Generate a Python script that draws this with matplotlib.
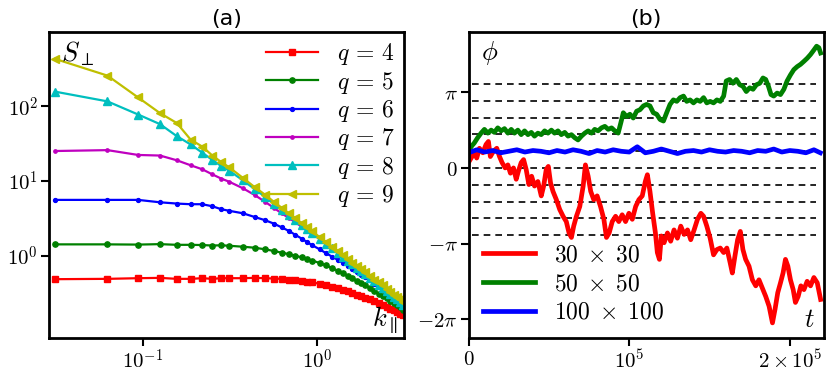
import numpy as np
import matplotlib
matplotlib.use("Agg")
import matplotlib.pyplot as plt

plt.rcParams["mathtext.fontset"] = "cm"
plt.rcParams["font.family"] = "DejaVu Sans"

# ---- panel (a): structure factor vs k_par ----
k_par = [0.0314, 0.0628, 0.0942, 0.1257, 0.1571, 0.1885, 0.2199, 0.2513, 0.2827, 0.3142,
         0.377, 0.440, 0.503, 0.565, 0.628, 0.691, 0.754, 0.817, 0.880, 0.942,
         1.037, 1.131, 1.225, 1.319, 1.414, 1.508, 1.602, 1.696, 1.791, 1.885,
         2.011, 2.136, 2.262, 2.388, 2.513, 2.639, 2.765, 2.890, 3.016, 3.142]

s_q4 = [0.485, 0.49, 0.50, 0.505, 0.49, 0.49, 0.50, 0.49, 0.50, 0.50,
        0.50, 0.505, 0.50, 0.495, 0.49, 0.48, 0.47, 0.46, 0.45, 0.44,
        0.42, 0.40, 0.385, 0.37, 0.35, 0.335, 0.32, 0.30, 0.29, 0.275,
        0.26, 0.245, 0.23, 0.22, 0.205, 0.195, 0.185, 0.175, 0.168, 0.16]
s_q5 = [1.42, 1.42, 1.41, 1.43, 1.40, 1.40, 1.39, 1.37, 1.38, 1.36,
        1.32, 1.28, 1.22, 1.16, 1.10, 1.05, 1.00, 0.95, 0.90, 0.86,
        0.80, 0.74, 0.68, 0.63, 0.58, 0.54, 0.50, 0.46, 0.43, 0.40,
        0.37, 0.34, 0.31, 0.29, 0.27, 0.25, 0.235, 0.22, 0.205, 0.19]
s_q6 = [5.6, 5.6, 5.6, 5.2, 5.0, 4.9, 4.9, 4.6, 4.2, 4.0,
        3.7, 3.3, 3.0, 2.7, 2.4, 2.15, 1.9, 1.7, 1.52, 1.38,
        1.22, 1.08, 0.97, 0.88, 0.80, 0.73, 0.66, 0.61, 0.56, 0.52,
        0.47, 0.42, 0.38, 0.35, 0.32, 0.29, 0.27, 0.25, 0.23, 0.21]
s_q7 = [25.3, 26.0, 22.4, 22.0, 19.0, 16.3, 14.4, 12.3, 10.8, 9.8,
        8.0, 6.5, 5.3, 4.4, 3.7, 3.2, 2.8, 2.45, 2.2, 1.98,
        1.67, 1.43, 1.24, 1.09, 0.96, 0.85, 0.76, 0.68, 0.62, 0.56,
        0.50, 0.45, 0.40, 0.37, 0.33, 0.30, 0.28, 0.25, 0.23, 0.21]
s_q8 = [158, 117, 78, 58, 40, 31, 24, 19.2, 15.9, 13.8,
        10.2, 7.8, 6.2, 5.0, 4.1, 3.5, 3.0, 2.6, 2.27, 2.0,
        1.69, 1.45, 1.25, 1.10, 0.97, 0.86, 0.77, 0.69, 0.63, 0.57,
        0.51, 0.455, 0.41, 0.37, 0.34, 0.31, 0.28, 0.26, 0.24, 0.22]
s_q9 = [434, 259, 132, 81.5, 60, 36, 29, 22, 18, 15.3,
        11.0, 8.3, 6.6, 5.3, 4.4, 3.7, 3.16, 2.74, 2.40, 2.12,
        1.78, 1.53, 1.32, 1.16, 1.02, 0.91, 0.81, 0.73, 0.67, 0.61,
        0.54, 0.48, 0.44, 0.40, 0.36, 0.33, 0.30, 0.28, 0.26, 0.24]

q_labels = [r"$q\,=\,4$", r"$q\,=\,5$", r"$q\,=\,6$", r"$q\,=\,7$", r"$q\,=\,8$", r"$q\,=\,9$"]

# ---- panel (b): phase vs time (t in 1e3, phi in units of pi) ----
t_30 = [0.4, 2.1, 3.5, 5.0, 6.7, 8.8, 10.8, 12.3, 13.5, 15.4, 17.5, 19.2, 20.8, 22.7, 24.4,
        26.0, 27.9, 29.6, 31.0, 32.7, 34.2, 35.8, 37.5, 39.2, 41.0, 43.1, 45.2, 46.7, 48.3,
        49.6, 51.0, 52.5, 54.6, 56.7, 58.8, 60.8, 62.5, 64.0, 65.4, 67.1, 69.2, 71.3, 72.7,
        74.4, 76.0, 77.9, 80.0, 82.1, 84.2, 85.8, 87.5, 89.4, 91.5, 93.5, 95.6, 97.7, 99.8,
        101.9, 104.0, 106.0, 108.1, 110.0, 111.3, 112.9, 114.6, 116.3, 117.5, 118.8, 120.0,
        121.7, 123.8, 125.8, 127.9, 130.0, 132.1, 134.2, 136.3, 138.3, 140.4, 142.5, 144.6,
        146.3, 148.3, 150.4, 152.5, 154.6, 156.7, 158.8, 160.8, 162.9, 164.2, 165.8, 167.5,
        169.2, 170.8, 172.5, 174.6, 176.7, 178.8, 180.8, 182.9, 185.0, 187.1, 189.2, 190.8,
        192.5, 194.2, 195.8, 197.3, 198.8, 200.4, 202.1, 203.5, 205.2, 206.9, 208.8, 210.8,
        212.9, 215.0, 217.1, 219.2]
phi_30 = [0.09, 0.15, 0.22, 0.13, 0.26, 0.20, 0.31, 0.35, 0.15, 0.22, 0.26, 0.15, 0.07, 0.0, 0.04,
          -0.07, 0.0, -0.15, -0.04, 0.07, 0.11, -0.02, -0.22, -0.11, -0.24, -0.18, -0.37, -0.24, -0.02,
          0.02, -0.20, -0.31, -0.42, -0.55, -0.64, -0.71, -0.86, -0.92, -0.77, -0.64, -0.51, -0.24, 0.04,
          -0.11, -0.31, -0.42, -0.37, -0.51, -0.68, -0.92, -0.86, -0.71, -0.64, -0.71, -0.62, -0.71, -0.60,
          -0.68, -0.51, -0.42, -0.37, -0.18, -0.09, -0.31, -0.60, -0.86, -1.12, -1.21, -0.90,
          -0.99, -0.86, -0.97, -0.82, -0.93, -0.77, -0.88, -0.82, -0.95, -0.82, -0.68, -0.60,
          -0.64, -0.77, -0.93, -1.15, -1.08, -1.06, -1.12, -1.06, -1.26, -1.39, -1.17, -0.95,
          -0.84, -1.08, -1.21, -1.30, -1.48, -1.56, -1.48, -1.59, -1.70, -1.83, -2.05, -1.87,
          -1.65, -1.52, -1.39, -1.21, -1.30, -1.48, -1.61, -1.78, -1.70, -1.56, -1.61, -1.50,
          -1.56, -1.45, -1.52, -1.74]

t_50 = [0.4, 1.9, 3.5, 5.6, 7.7, 9.8, 11.9, 14.0, 16.0, 18.1, 20.2, 22.3, 24.4, 26.5, 28.5,
        30.6, 32.7, 34.8, 36.9, 39.0, 41.0, 43.1, 45.2, 47.3, 49.4, 51.5, 53.5, 55.6, 57.7,
        59.8, 61.9, 64.0, 66.0, 68.1, 70.2, 72.3, 74.4, 76.5, 78.5, 80.6, 82.7, 84.8, 86.9,
        89.0, 91.0, 93.1, 94.8, 96.3, 98.3, 100.4, 102.5, 104.6, 106.7, 108.8, 110.8, 112.9,
        115.0, 117.1, 119.2, 121.3, 123.3, 125.4, 127.5, 129.6, 131.7, 133.8, 135.8, 137.9,
        140.0, 142.1, 144.2, 146.3, 148.3, 150.4, 152.5, 154.6, 156.7, 158.8, 160.4, 162.5,
        164.6, 166.7, 168.8, 170.8, 172.9, 175.0, 177.1, 179.2, 181.3, 183.3, 185.0, 186.7,
        188.3, 190.0, 192.1, 194.2, 196.3, 198.3, 200.4, 202.5, 204.6, 206.7, 208.8, 210.8,
        212.9, 215.0, 216.7, 218.1, 219.2]
phi_50 = [0.24, 0.29, 0.33, 0.40, 0.46, 0.51, 0.46, 0.50, 0.47, 0.53, 0.49, 0.52, 0.46, 0.51, 0.46,
          0.50, 0.44, 0.49, 0.44, 0.47, 0.42, 0.46, 0.44, 0.49, 0.46, 0.50, 0.46, 0.49, 0.44,
          0.47, 0.42, 0.44, 0.40, 0.37, 0.42, 0.46, 0.49, 0.46, 0.51, 0.49, 0.53, 0.55, 0.51,
          0.53, 0.49, 0.46, 0.60, 0.73, 0.68, 0.71, 0.66, 0.75, 0.77, 0.82, 0.84, 0.82,
          0.73, 0.71, 0.64, 0.62, 0.73, 0.84, 0.90, 0.88, 0.93, 0.95, 0.88, 0.90,
          0.86, 0.90, 0.88, 0.93, 0.86, 0.88, 0.86, 0.90, 0.88, 0.95, 1.15, 1.17,
          1.12, 1.17, 1.10, 1.08, 1.01, 1.06, 1.04, 1.10, 1.12, 1.19, 1.17, 1.08,
          0.97, 0.95, 0.99, 0.97, 1.04, 1.15, 1.23, 1.30, 1.34, 1.37, 1.41, 1.45,
          1.50, 1.56, 1.61, 1.59, 1.52]

t_100 = [0, 5, 10, 15, 20, 25, 30, 35, 40, 45, 50, 55, 60, 65, 70, 75, 80, 85, 90, 95,
         100, 105, 110, 115, 120, 125, 130, 135, 140, 145, 150, 155, 160, 165, 170, 175,
         180, 185, 190, 195, 200, 205, 210, 215, 219]
phi_100 = [0.20, 0.24, 0.21, 0.23, 0.20, 0.22, 0.24, 0.21, 0.23, 0.22, 0.20, 0.23, 0.21, 0.24, 0.22,
           0.19, 0.23, 0.21, 0.24, 0.22, 0.21, 0.28, 0.20, 0.22, 0.25, 0.22, 0.19, 0.22, 0.23,
           0.21, 0.24, 0.22, 0.21, 0.23, 0.22, 0.20, 0.23, 0.22, 0.25, 0.21, 0.23, 0.22, 0.20,
           0.24, 0.20]

size_labels = [r"$30\;\times\;30$", r"$50\;\times\;50$", r"$100\;\times\;100$"]

# dashed reference levels, in units of 2*pi/9
dash_levels = [-4, -3, -2, -1, 0, 1, 2, 3, 4, 5]

fig = plt.figure(figsize=(8.31, 3.72), dpi=100)

ax1 = fig.add_axes([0.059, 0.0914, 0.427, 0.823])
ax2 = fig.add_axes([0.564, 0.0914, 0.427, 0.823])

# (a)
styles = [("r", "s", 4.0), ("g", "o", 3.8), ("b", "o", 2.8),
          ("m", "o", 2.4), ("c", "^", 5.2), ("y", "<", 5.4)]
curves = [s_q4, s_q5, s_q6, s_q7, s_q8, s_q9]
for s, (c, mk, ms), lab in zip(curves, styles, q_labels):
    ax1.plot(k_par, s, color=c, marker=mk, markersize=ms, linewidth=1.6, label=lab)

ax1.set_xscale("log")
ax1.set_yscale("log")
ax1.set_xlim(0.029, 3.16)
ax1.set_ylim(0.079, 1000)
ax1.set_xticks([0.1, 1])
ax1.set_xticklabels([r"$10^{-1}$", r"$10^{0}$"])
ax1.set_yticks([1, 10, 100])
ax1.set_yticklabels([r"$10^{0}$", r"$10^{1}$", r"$10^{2}$"])
ax1.minorticks_off()
ax1.set_title("(a)", fontsize=16, pad=5)
ax1.text(0.035, 0.975, r"$S_\perp$", transform=ax1.transAxes, fontsize=19, va="top", ha="left")
ax1.text(0.985, 0.01, r"$k_\parallel$", transform=ax1.transAxes, fontsize=19, va="bottom", ha="right")
ax1.legend(loc="upper right", frameon=False, fontsize=17, handlelength=2.2,
           handletextpad=0.8, labelspacing=0.1, borderaxespad=0.1, borderpad=0.3)

# (b)
for lv in dash_levels:
    ax2.axhline(lv * 2 * np.pi / 9, xmin=0.01, xmax=0.98, color="k", linestyle="--",
                linewidth=1.2, dashes=(4, 3), zorder=1)

traces = [(t_30, phi_30, "r"), (t_50, phi_50, "g"), (t_100, phi_100, "b")]
for (t, phi, c), lab in zip(traces, size_labels):
    ax2.plot(np.array(t) * 1e3, np.array(phi) * np.pi, color=c, linewidth=3.4, label=lab, zorder=2)

ax2.set_xlim(0, 2.21e5)
ax2.set_ylim(-2.25 * np.pi, 1.8 * np.pi)
ax2.set_xticks([0, 1e5, 2e5])
ax2.set_xticklabels([r"$0$", r"$10^{5}$", r"$2\times10^{5}$"])
ax2.set_yticks([-2 * np.pi, -np.pi, 0, np.pi])
ax2.set_yticklabels([r"$-2\pi$", r"$-\pi$", r"$0$", r"$\pi$"])
ax2.set_title("(b)", fontsize=16, pad=5)
ax2.text(0.035, 0.975, r"$\phi$", transform=ax2.transAxes, fontsize=19, va="top", ha="left")
ax2.text(0.975, 0.015, r"$t$", transform=ax2.transAxes, fontsize=19, va="bottom", ha="right")
ax2.legend(loc="lower left", frameon=False, fontsize=17, handlelength=2.2,
           handletextpad=0.8, labelspacing=0.2, borderaxespad=0.3, borderpad=0.3)

for ax in (ax1, ax2):
    for sp in ax.spines.values():
        sp.set_linewidth(2)
    ax.tick_params(direction="out", length=6, width=1.5, labelsize=15, pad=2)

plt.savefig("out.png", dpi=100)
